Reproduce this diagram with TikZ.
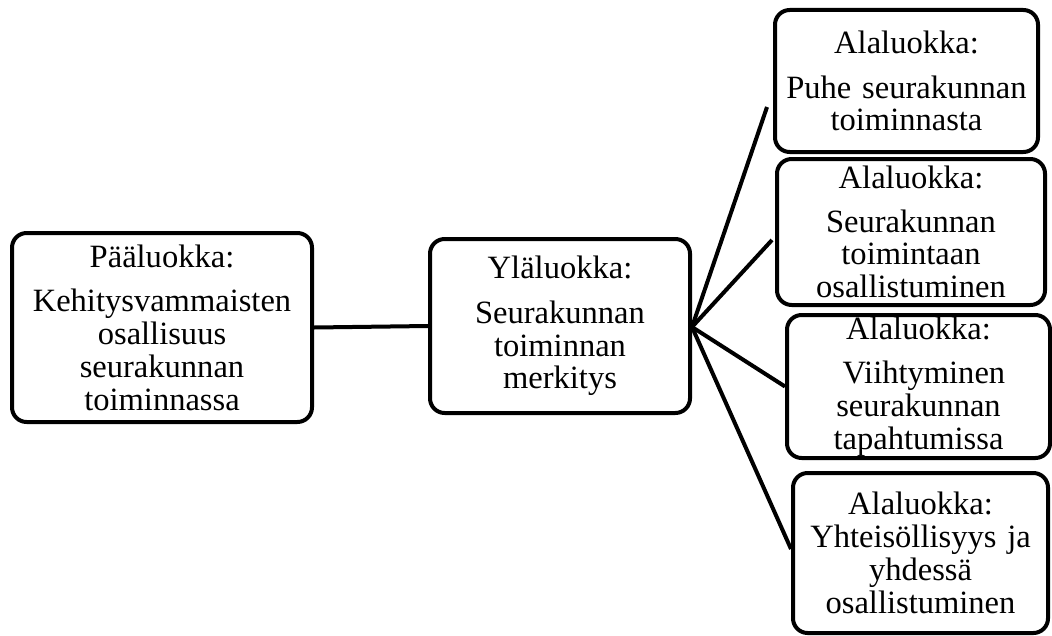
\documentclass[tikz,border=0pt]{standalone}
\usepackage{fontspec}
\setmainfont{Liberation Serif}
\begin{document}
\begin{tikzpicture}[x=0.75pt,y=-0.75pt,
  box/.style={draw=black,line width=3pt,rounded corners=11pt,fill=white,
    inner sep=0pt,align=center,font=\fontsize{24.4}{24.6}\selectfont},
  conn/.style={draw=black,line width=3pt}]
\useasboundingbox (0,0) rectangle (1052,635);
\node[box,minimum width=225pt,minimum height=141.75pt,text width=215pt] (b1) at (162,327.5)
  {Pääluokka:\\[9pt]Kehitysvammaisten\\osallisuus\\seurakunnan\\toiminnassa};
\node[box,minimum width=195pt,minimum height=130.5pt,text width=185pt] (b2) at (560,326)
  {Yläluokka:\\[9pt]Seurakunnan\\toiminnan\\merkitys};
\node[box,minimum width=197.25pt,minimum height=106.5pt,text width=190pt] (a1) at (906.5,81)
  {Alaluokka:\\[9pt]Puhe seurakunnan\\toiminnasta};
\node[box,minimum width=201pt,minimum height=109.5pt,text width=190pt] (a2) at (911,232)
  {Alaluokka:\\[8pt]Seurakunnan\\toimintaan\\osallistuminen};
\node[box,minimum width=197.25pt,minimum height=107.25pt,text width=190pt] (a3) at (918.5,386.5)
  {Alaluokka:\\[9pt]\ Viihtyminen\\seurakunnan\\tapahtumissa};
\node[box,minimum width=191.25pt,minimum height=120pt,text width=185pt] (a4) at (920.5,553)
  {Alaluokka:\\Yhteisöllisyys ja\\yhdessä\\osallistuminen};
\coordinate (hub) at (692,327);
\coordinate (e1) at (767,107);
\coordinate (e2) at (772,240);
\draw[conn] (b1.east) -- (b2.west);
\draw[conn] (hub) -- (e1);
\draw[conn] (hub) -- (e2);
\draw[conn] (hub) -- (a3.west);
\draw[conn] (hub) -- ([yshift=3pt]a4.west);
\end{tikzpicture}
\end{document}
